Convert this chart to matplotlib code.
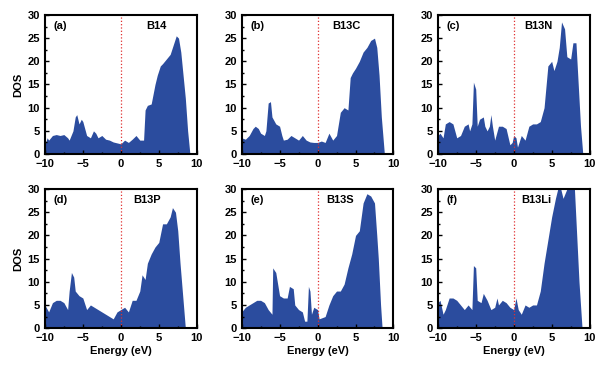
import matplotlib
matplotlib.use("Agg")
import matplotlib.pyplot as plt
import numpy as np
from matplotlib.ticker import MultipleLocator

plt.rcParams["font.family"] = ["Liberation Sans", "DejaVu Sans"]
plt.rcParams["font.weight"] = "bold"

FILL = "#2b4c9e"

# (energy, DOS)
a_x = [-10, -9.7, -9.5, -9, -8.5, -8, -7.5, -7, -6.8, -6.3, -6, -5.8, -5.5, -5.2, -5, -4.5, -4, -3.6, -3.3, -3, -2.5, -2, -1.5, -1, -0.5, 0, 0.5, 1, 1.5, 2, 2.5, 3.0, 3.2, 3.5, 4, 4.5, 4.8, 5.2, 5.5, 6, 6.5, 7, 7.3, 7.6, 7.9, 8.2, 8.5, 8.8, 9.1]
a_y = [2.0, 3.5, 3.0, 4.0, 4.2, 4.0, 4.2, 3.5, 3.0, 5.0, 8.0, 8.5, 6.5, 7.5, 7.0, 4.0, 3.5, 5.0, 4.5, 3.5, 4.0, 3.2, 3.0, 2.6, 2.4, 2.2, 3.0, 2.5, 3.2, 4.0, 3.0, 3.0, 9.5, 10.5, 10.8, 15, 17, 19, 19.5, 20.5, 21.5, 24, 25.5, 25, 22, 17, 12, 5, 0]

b_x = [-10, -9.5, -9, -8.5, -8.2, -7.8, -7.5, -7, -6.8, -6.5, -6.2, -6, -5.5, -5, -4.7, -4.5, -4, -3.5, -3, -2.5, -2, -1.5, -1, -0.5, 0, 0.5, 1, 1.5, 2, 2.5, 3, 3.5, 4, 4.3, 4.6, 5, 5.5, 6, 6.5, 7, 7.5, 7.8, 8.1, 8.4, 8.6, 8.8]
b_y = [3.5, 3.2, 4.0, 5.5, 6.0, 5.5, 4.5, 4.0, 5.0, 11.0, 11.3, 8.0, 6.5, 6.0, 4.0, 3.0, 3.2, 4.0, 3.5, 3.0, 4.0, 3.0, 2.6, 2.5, 2.5, 2.8, 2.5, 4.5, 3.0, 4.0, 9.0, 10.0, 9.5, 16.5, 17.5, 18.5, 20, 22, 23, 24.5, 25, 23, 17, 8, 4, 0]

c_x = [-10, -9.7, -9.3, -9, -8.5, -8, -7.5, -7, -6.5, -6, -5.8, -5.5, -5.3, -5, -4.8, -4.5, -4, -3.8, -3.5, -3.2, -3, -2.8, -2.5, -2, -1.5, -1, -0.5, -0.2, 0, 0.3, 0.5, 1, 1.5, 2, 2.5, 3, 3.5, 4, 4.5, 5, 5.3, 5.7, 6, 6.3, 6.7, 7, 7.5, 7.8, 8.2, 8.5, 8.8, 9.1]
c_y = [4.0, 4.5, 3.5, 6.5, 7.0, 6.5, 3.5, 4.0, 6.0, 6.5, 5.0, 6.5, 15.5, 14.0, 6.0, 7.5, 8.0, 6.0, 5.0, 6.0, 8.5, 6.0, 3.0, 6.0, 6.0, 5.5, 2.0, 2.5, 4.0, 3.5, 1.5, 4.0, 3.0, 6.0, 6.5, 6.5, 7.0, 10.0, 19.0, 20.0, 18.0, 20.0, 23.0, 28.5, 27.0, 21.0, 20.5, 24.0, 24.0, 15.0, 6.0, 0]

d_x = [-10, -9.5, -9, -8.5, -8, -7.5, -7, -6.8, -6.5, -6.2, -6, -5.5, -5, -4.5, -4, -3.5, -3, -2.5, -2, -1.5, -1, -0.5, 0, 0.5, 1, 1.5, 2, 2.5, 2.8, 3.2, 3.5, 4, 4.5, 5, 5.5, 6, 6.5, 6.8, 7.2, 7.5, 7.8, 8.0, 8.3, 8.5]
d_y = [5.0, 3.5, 5.5, 6.0, 6.0, 5.5, 4.0, 8.0, 12.0, 11.0, 8.0, 7.0, 6.5, 4.0, 5.0, 4.5, 4.0, 3.5, 3.0, 2.5, 2.0, 3.5, 4.0, 4.5, 3.5, 6.0, 6.0, 8.0, 11.5, 10.5, 14.0, 16.0, 17.5, 18.5, 22.5, 22.5, 24.0, 26.0, 25.0, 21.0, 14.0, 10.0, 4.0, 0]

e_x = [-10, -9.5, -9, -8.5, -8, -7.5, -7, -6.5, -6, -5.9, -5.5, -5.2, -5, -4.5, -4, -3.7, -3.2, -3, -2.5, -2, -1.7, -1.4, -1.2, -1, -0.8, -0.5, 0, 0.2, 1, 1.5, 2, 2.5, 3, 3.5, 4, 4.5, 5, 5.5, 6, 6.5, 7, 7.5, 7.8, 8.0, 8.3, 8.5]
e_y = [3.5, 4.5, 5.0, 5.5, 6.0, 6.0, 5.5, 4.0, 3.0, 13.0, 12.0, 9.0, 7.0, 6.5, 6.5, 9.0, 8.5, 5.0, 4.0, 3.5, 1.5, 1.5, 9.0, 8.0, 3.0, 4.5, 4.0, 2.0, 2.5, 5.0, 7.0, 8.0, 8.0, 9.5, 13.0, 16.0, 20.0, 21.0, 27.0, 29.0, 28.5, 27.0, 20.0, 15.0, 5.0, 0]

f_x = [-10, -9.7, -9.3, -9, -8.5, -8, -7.5, -7, -6.5, -6, -5.5, -5.3, -5, -4.8, -4.3, -4, -3.5, -3, -2.5, -2.2, -2, -1.5, -1, -0.5, 0, 0.3, 0.6, 1, 1.5, 2, 2.5, 3, 3.5, 4, 4.5, 5, 5.5, 5.8, 6.2, 6.5, 7, 7.5, 8, 8.3, 8.6, 9.0]
f_y = [5.5, 6.0, 3.0, 4.0, 6.5, 6.5, 6.0, 5.0, 4.0, 5.0, 4.0, 13.5, 13.0, 6.0, 5.5, 7.5, 6.0, 4.0, 4.5, 6.5, 5.0, 6.0, 5.5, 4.5, 4.0, 6.5, 4.0, 3.0, 5.0, 4.5, 5.0, 5.0, 8.0, 14.0, 19.0, 24.0, 28.0, 30.0, 30.0, 28.0, 30.0, 30.0, 30.0, 20.0, 10.0, 0]

panels = [
    ("(a)", "B14", a_x, a_y, 0.67),
    ("(b)", "B13C", b_x, b_y, 0.60),
    ("(c)", "B13N", c_x, c_y, 0.57),
    ("(d)", "B13P", d_x, d_y, 0.58),
    ("(e)", "B13S", e_x, e_y, 0.56),
    ("(f)", "B13Li", f_x, f_y, 0.55),
]

fig = plt.figure(figsize=(5.98, 3.65), dpi=100)
lefts = [0.075, 0.404, 0.732]
bottoms = [0.578, 0.101]
w, h = 0.254, 0.381

for i, (tag, name, xs, ys, name_x) in enumerate(panels):
    row, col = divmod(i, 3)
    ax = fig.add_axes([lefts[col], bottoms[row], w, h])
    ax.fill_between(xs, ys, 0, color=FILL, linewidth=0)
    ax.axvline(0, color="#e03030", linestyle=":", linewidth=0.9)
    ax.set_xlim(-10, 10)
    ax.set_ylim(0, 30)
    ax.xaxis.set_major_locator(MultipleLocator(5))
    ax.xaxis.set_minor_locator(MultipleLocator(2.5))
    ax.yaxis.set_major_locator(MultipleLocator(5))
    ax.yaxis.set_minor_locator(MultipleLocator(2.5))
    ax.tick_params(which="both", direction="in", top=False, right=False,
                   labelsize=8, width=1.0)
    ax.tick_params(axis="x", pad=3.5)
    ax.tick_params(axis="y", pad=3.5)
    ax.tick_params(which="major", length=3)
    ax.tick_params(which="minor", length=1.5)
    for lab in ax.get_xticklabels() + ax.get_yticklabels():
        lab.set_fontweight("bold")
    for sp in ax.spines.values():
        sp.set_linewidth(1.5)
    ax.text(0.06, 0.92, tag, transform=ax.transAxes, fontsize=8,
            fontweight="bold", va="center", ha="left")
    ax.text(name_x, 0.92, name, transform=ax.transAxes, fontsize=8,
            fontweight="bold", va="center", ha="left")
    if col == 0:
        ax.set_ylabel("DOS", fontsize=8, fontweight="bold", labelpad=3)
    if row == 1:
        ax.set_xlabel("Energy (eV)", fontsize=8, fontweight="bold", labelpad=2)

fig.savefig("out.png", dpi=100)
